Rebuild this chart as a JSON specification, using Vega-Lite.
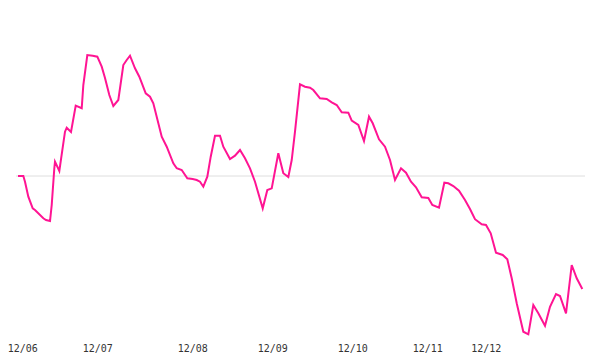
{
  "$schema": "https://vega.github.io/schema/vega-lite/v6.json",
  "width": 600,
  "height": 336,
  "autosize": "none",
  "padding": {"left": 0, "top": 0, "right": 0, "bottom": 24},
  "background": "white",
  "config": {"view": {"stroke": null}},
  "datasets": {
    "series": [
      {"t": 0, "v": 0}, {"t": 1.33, "v": 0}, {"t": 1.75, "v": -1.43}, {"t": 2.58, "v": -5.18},
      {"t": 3.68, "v": -8.08}, {"t": 4.25, "v": -8.5}, {"t": 6.33, "v": -10.58}, {"t": 7.0, "v": -11.0},
      {"t": 8.0, "v": -11.25}, {"t": 8.43, "v": -7.25}, {"t": 9.08, "v": 1.93}, {"t": 9.25, "v": 3.58},
      {"t": 10.33, "v": 1.25}, {"t": 11.75, "v": 11.08}, {"t": 12.18, "v": 12.08}, {"t": 13.25, "v": 11.0},
      {"t": 14.43, "v": 17.58}, {"t": 15.93, "v": 16.93}, {"t": 16.33, "v": 22.75}, {"t": 17.33, "v": 30.25},
      {"t": 18.68, "v": 30.08}, {"t": 19.83, "v": 29.83}, {"t": 20.93, "v": 27.33}, {"t": 21.75, "v": 24.5},
      {"t": 22.83, "v": 20.25}, {"t": 23.83, "v": 17.5}, {"t": 25.08, "v": 19.0}, {"t": 26.33, "v": 27.75},
      {"t": 27.18, "v": 29.0}, {"t": 28.0, "v": 30.08}, {"t": 29.25, "v": 26.93}, {"t": 30.33, "v": 24.83},
      {"t": 31.93, "v": 20.68}, {"t": 33.0, "v": 19.83}, {"t": 33.83, "v": 18.18}, {"t": 35.93, "v": 9.83},
      {"t": 37.18, "v": 7.33}, {"t": 38.83, "v": 3.18}, {"t": 39.68, "v": 1.93}, {"t": 40.93, "v": 1.5},
      {"t": 42.33, "v": -0.58}, {"t": 43.68, "v": -0.75}, {"t": 44.68, "v": -1.0}, {"t": 45.5, "v": -1.43},
      {"t": 46.33, "v": -2.68}, {"t": 47.33, "v": -0.18}, {"t": 48.18, "v": 4.83}, {"t": 49.25, "v": 10.08},
      {"t": 50.5, "v": 10.08}, {"t": 51.33, "v": 7.33}, {"t": 53.0, "v": 4.25}, {"t": 54.25, "v": 5.08},
      {"t": 55.5, "v": 6.5}, {"t": 56.75, "v": 4.43}, {"t": 58.0, "v": 1.93}, {"t": 59.25, "v": -1.43},
      {"t": 61.18, "v": -8.08}, {"t": 62.33, "v": -3.5}, {"t": 63.43, "v": -3.08}, {"t": 65.08, "v": 5.68},
      {"t": 66.33, "v": 0.68}, {"t": 67.58, "v": -0.25}, {"t": 68.43, "v": 4.0}, {"t": 69.25, "v": 11.08},
      {"t": 70.5, "v": 22.93}, {"t": 71.75, "v": 22.33}, {"t": 73.0, "v": 22.08}, {"t": 73.83, "v": 21.5},
      {"t": 75.5, "v": 19.43}, {"t": 77.18, "v": 19.25}, {"t": 78.43, "v": 18.43}, {"t": 79.68, "v": 17.75},
      {"t": 80.93, "v": 15.93}, {"t": 82.58, "v": 15.83}, {"t": 83.43, "v": 13.83}, {"t": 85.08, "v": 12.75},
      {"t": 86.5, "v": 8.75}, {"t": 87.75, "v": 14.83}, {"t": 88.68, "v": 13.18}, {"t": 90.25, "v": 9.18},
      {"t": 91.75, "v": 7.33}, {"t": 93.0, "v": 4.0}, {"t": 94.25, "v": -1.0}, {"t": 95.75, "v": 1.93},
      {"t": 97.0, "v": 0.83}, {"t": 98.25, "v": -1.43}, {"t": 99.5, "v": -2.83}, {"t": 100.93, "v": -5.33},
      {"t": 102.58, "v": -5.5}, {"t": 103.58, "v": -7.25}, {"t": 105.25, "v": -7.93}, {"t": 106.58, "v": -1.68},
      {"t": 107.58, "v": -1.83}, {"t": 108.83, "v": -2.5}, {"t": 110.25, "v": -3.68}, {"t": 111.75, "v": -6.0},
      {"t": 113.0, "v": -8.25}, {"t": 114.25, "v": -10.8}, {"t": 115.93, "v": -12.08}, {"t": 117.0, "v": -12.25},
      {"t": 118.18, "v": -14.33}, {"t": 119.5, "v": -19.18}, {"t": 121.18, "v": -19.75}, {"t": 122.33, "v": -20.83},
      {"t": 123.43, "v": -25.58}, {"t": 124.68, "v": -31.83}, {"t": 126.33, "v": -38.93}, {"t": 127.58, "v": -39.58},
      {"t": 128.83, "v": -32.25}, {"t": 130.08, "v": -34.33}, {"t": 131.75, "v": -37.43}, {"t": 133.0, "v": -32.68},
      {"t": 134.5, "v": -29.5}, {"t": 135.5, "v": -30.0}, {"t": 137.0, "v": -34.33}, {"t": 138.43, "v": -22.25},
      {"t": 139.68, "v": -25.58}, {"t": 141.08, "v": -28.25}
    ],
    "baseline": [{"t": -0.5, "t2": 141.75, "v": 0}]
  },
  "encoding": {
    "x": {
      "field": "t", "type": "quantitative",
      "scale": {"domain": [-4.5, 145.5], "nice": false, "zero": false},
      "axis": {
        "title": null, "domain": false, "ticks": false, "grid": false,
        "values": [1.08, 19.83, 43.58, 63.58, 83.58, 102.33, 116.92],
        "labelExpr": "datum.value < 10 ? '12/06' : datum.value < 30 ? '12/07' : datum.value < 50 ? '12/08' : datum.value < 70 ? '12/09' : datum.value < 90 ? '12/10' : datum.value < 110 ? '12/11' : '12/12'",
        "labelFont": "DejaVu Sans Mono", "labelFontSize": 10, "labelColor": "#333333",
        "labelPadding": 7, "labelOverlap": false, "labelFlush": false
      }
    },
    "y": {"field": "v", "type": "quantitative", "scale": {"domain": [-40, 44], "nice": false, "zero": false}, "axis": null}
  },
  "layer": [
    {
      "data": {"name": "baseline"},
      "mark": {"type": "rule", "color": "#dedede", "strokeWidth": 1},
      "encoding": {
        "x2": {"field": "t2"}
      }
    },
    {
      "data": {"name": "series"},
      "mark": {"type": "line", "color": "#ff1493", "strokeWidth": 2, "interpolate": "linear"},
      "encoding": {
        "order": {"field": "t", "type": "quantitative"}
      }
    }
  ]
}
